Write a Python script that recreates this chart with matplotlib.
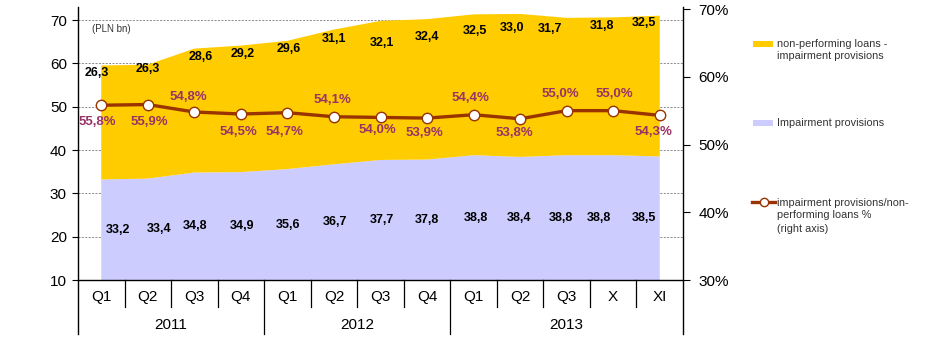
import matplotlib.pyplot as plt
from matplotlib.patches import Rectangle
from matplotlib.lines import Line2D

plt.rcParams['font.family'] = ['Liberation Sans', 'DejaVu Sans']

quarters = ['Q1', 'Q2', 'Q3', 'Q4', 'Q1', 'Q2', 'Q3', 'Q4', 'Q1', 'Q2', 'Q3', 'X', 'XI']
years = ['2011', '2012', '2013']
impairment = [33.2, 33.4, 34.8, 34.9, 35.6, 36.7, 37.7, 37.8, 38.8, 38.4, 38.8, 38.8, 38.5]
npl_minus_imp = [26.3, 26.3, 28.6, 29.2, 29.6, 31.1, 32.1, 32.4, 32.5, 33.0, 31.7, 31.8, 32.5]
coverage = [55.8, 55.9, 54.8, 54.5, 54.7, 54.1, 54.0, 53.9, 54.4, 53.8, 55.0, 55.0, 54.3]

# label nudges in pixels (dx, dy)
top_dx = [-4, 0, 6, 2, 1, 0, 1, 0, 1, -8, -17, -11, -16]
top_dy = [-8, -4, -8, -8, -8, -9, -22, -18, -17, -14, -11, -9, -7]
imp_dx = [17, 11, 1, 1, 1, 1, 1, 0, 2, -1, -6, -14, -16]
pct_dx = [-4, 2, -6, -2, -3, -2, -3, -3, -3, -6, -6, 1, -6]
pct_dy = [-17, -17, 15, -18, -19, 17, -13, -15, 17, -14, 17, 17, -17]

YELLOW = '#FFCC00'
LAVENDER = '#CCCCFF'
BROWN = '#993300'
MAUVE = '#993366'

W, H = 952, 344
fig = plt.figure(figsize=(W / 100, H / 100), dpi=100)
ax = fig.add_axes([78 / W, (H - 280) / H, (683 - 78) / W, (280 - 7) / H])

x = list(range(len(quarters)))
ax.stackplot(x, impairment, npl_minus_imp, colors=[LAVENDER, YELLOW], linewidth=0)
ax.set_xlim(-0.5, len(quarters) - 0.5)
ax.set_ylim(10, 73.0)
ax.set_yticks(range(10, 71, 10))
ax.set_axisbelow(True)
ax.yaxis.grid(True, color='#888888', linestyle=(0, (2, 1.5)), linewidth=0.7)
ax.set_xticks([])
ax.tick_params(axis='y', direction='out', length=4, labelsize=11, pad=4)
for s in ['top', 'right', 'left']:
    ax.spines[s].set_visible(False)
ax.spines['bottom'].set_linewidth(1.0)

ax2 = ax.twinx()
ax2.set_ylim(30, 70.3)
ax2.set_yticks(range(30, 71, 10))
ax2.set_yticklabels([f'{v}%' for v in range(30, 71, 10)])
ax2.tick_params(axis='y', direction='out', length=5, labelsize=11, pad=6)
for s in ['top', 'right', 'left', 'bottom']:
    ax2.spines[s].set_visible(False)
ax2.plot(x, coverage, color=BROWN, linewidth=2.4, marker='o', markersize=7.5,
         markerfacecolor='white', markeredgecolor=BROWN, markeredgewidth=1.0, zorder=5)

fmt = lambda v: f'{v:.1f}'.replace('.', ',')

for i in x:
    top = impairment[i] + npl_minus_imp[i]
    ax.annotate(fmt(npl_minus_imp[i]), (i, top), xytext=(top_dx[i], top_dy[i]),
                textcoords='offset pixels', ha='center', va='center',
                fontsize=9, fontweight='bold', color='black')
    ax.annotate(fmt(impairment[i]), (i, (10 + impairment[i]) / 2), xytext=(imp_dx[i], 0),
                textcoords='offset pixels', ha='center', va='center',
                fontsize=9, fontweight='bold', color='black')
    ax2.annotate(fmt(coverage[i]) + '%', (i, coverage[i]), xytext=(pct_dx[i], pct_dy[i]),
                 textcoords='offset pixels', ha='center', va='center',
                 fontsize=9.5, fontweight='bold', color=MAUVE, zorder=6)

ax.text(14 / (683 - 78), 1 - 22 / 273, '(PLN bn)', transform=ax.transAxes,
        fontsize=7, color='#333333', ha='left', va='center')

# category axis: quarter labels, year labels and separators
bx = ax.get_xaxis_transform()
for i, q in enumerate(quarters):
    ax.text(i, -17 / 273, q, transform=bx, ha='center', va='center', fontsize=11)
for cx, yr in zip([1.5, 5.5, 10.0], years):
    ax.text(cx, -45 / 273, yr, transform=bx, ha='center', va='center', fontsize=11)
for k in range(1, len(quarters)):
    depth = -54 / 273 if k in (4, 8) else -27 / 273
    ax.add_line(Line2D([k - 0.5, k - 0.5], [0, depth], transform=bx, color='black',
                       linewidth=0.9, clip_on=False))
for ex in [0, 1]:
    ax.add_line(Line2D([ex, ex], [1, -54 / 273], transform=ax.transAxes, color='black',
                       linewidth=1.0, clip_on=False))

# legend
def fx(px):
    return px / W


def fy(py):
    return 1 - py / H


fig.add_artist(Rectangle((fx(753), fy(47)), 20 / W, 6 / H, transform=fig.transFigure,
                         facecolor=YELLOW, edgecolor='none'))
fig.add_artist(Rectangle((fx(753), fy(126)), 20 / W, 6 / H, transform=fig.transFigure,
                         facecolor=LAVENDER, edgecolor='none'))
fig.add_artist(Line2D([fx(752), fx(775)], [fy(202), fy(202)], transform=fig.transFigure,
                      color=BROWN, linewidth=2.4))
fig.add_artist(Line2D([fx(763.5)], [fy(202)], transform=fig.transFigure, color=BROWN,
                      marker='o', markersize=6, markerfacecolor='white',
                      markeredgecolor=BROWN, markeredgewidth=1.0, linestyle='none'))
legend_lines = [
    (44, 'non-performing loans -'), (56, 'impairment provisions'),
    (123, 'Impairment provisions'),
    (203, 'impairment provisions/non-'), (215, 'performing loans %'), (229, '(right axis)'),
]
for py, t in legend_lines:
    fig.text(fx(777), fy(py), t, fontsize=7.8, color='#333333', ha='left', va='center')

fig.savefig('out.png', dpi=100)
